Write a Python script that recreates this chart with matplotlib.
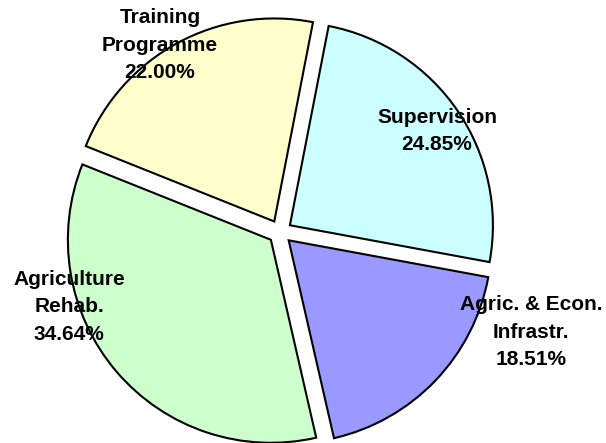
import numpy as np
import matplotlib
matplotlib.use("Agg")
import matplotlib.pyplot as plt

plt.rcParams['font.family'] = ['Liberation Sans', 'DejaVu Sans']

labels = ['Supervision', 'Agric. & Econ.\nInfrastr.', 'Agriculture\nRehab.', 'Training\nProgramme']
shares = [24.85, 18.51, 34.64, 22.00]
colors = ['#CCFFFF', '#9999FF', '#CCFFCC', '#FFFFCC']

# label centres in pixels (x, y from top), as laid out in the original
label_pos = [(437, 131), (531, 332), (69, 307), (160, 45)]

W, H = 606, 443
fig = plt.figure(figsize=(W / 100, H / 100), dpi=100)
ax = fig.add_axes([0, 0, 1, 1])

cx, cy, R = 280, H - 232, 203
# explode is in data units here (pixels)
wedges, _ = ax.pie(shares, colors=colors, startangle=79, counterclock=False,
                   explode=[12] * 4, radius=R, center=(cx, cy),
                   wedgeprops=dict(edgecolor='black', linewidth=1.5))

for lab, val, (px, py) in zip(labels, shares, label_pos):
    ax.text(px, H - py, f"{lab}\n{val:.2f}%", ha='center', va='center',
            fontsize=15, fontweight='bold', linespacing=1.55, zorder=10)

# pie() resets the limits, so set them afterwards
ax.set_xlim(0, W)
ax.set_ylim(0, H)
ax.set_aspect('equal')
ax.axis('off')

fig.savefig('out.png', dpi=100)
